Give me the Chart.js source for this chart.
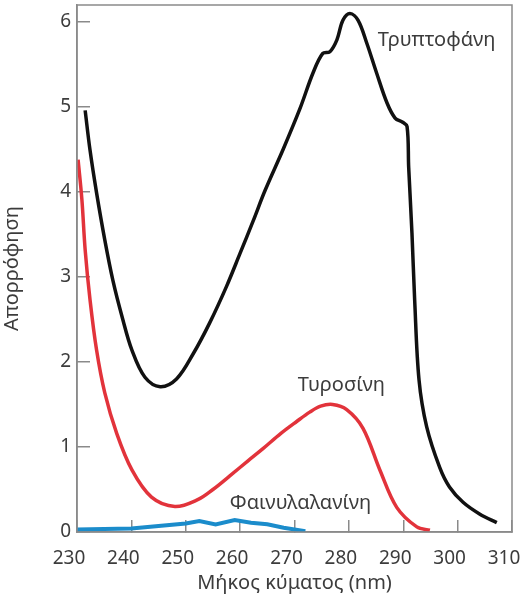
<!DOCTYPE html>
<html>
<head>
<meta charset="utf-8">
<script src="https://cdn.jsdelivr.net/npm/chart.js@4.4.1/dist/chart.umd.min.js"></script>
<style>
  html, body { margin: 0; padding: 0; background: #fff; }
  #wrap { width: 520px; height: 597px; }
</style>
</head>
<body>
<div id="wrap"><canvas id="spectrum"></canvas></div>
<script>
// Τρυπτοφάνη
const trpNm = [231.5, 232.4, 233.6, 235.1, 236.6, 238.3, 240.1, 242.5, 245.3, 248.3, 251.4, 254.4, 257.5, 260, 262.4, 264.6, 267.9, 271, 273.4, 275.2, 276.5, 277.8, 278.9, 280.2, 281.7, 283.3, 285.1, 287, 288.5, 289.9, 290.7, 291, 291.6, 292.1, 292.9, 294.3, 296.7, 298.5, 301, 304.1, 307.2];
const trpAbs = [4.96, 4.49, 3.99, 3.44, 2.96, 2.53, 2.14, 1.82, 1.71, 1.8, 2.1, 2.46, 2.89, 3.28, 3.66, 4.02, 4.5, 4.98, 5.4, 5.63, 5.65, 5.79, 6.02, 6.1, 6.02, 5.75, 5.4, 5.05, 4.87, 4.82, 4.77, 4.29, 3.52, 2.73, 1.79, 1.24, 0.76, 0.53, 0.35, 0.21, 0.11];

// Τυροσίνη
const tyrNm = [230.2, 230.9, 231.5, 232.4, 233.6, 235.1, 237.3, 240.1, 243.7, 248, 252.2, 255, 258.1, 261.5, 264.2, 267.5, 270.4, 272.8, 274.8, 277, 279.6, 282.6, 285.7, 288.8, 292.5, 294.9];
const tyrAbs = [4.38, 3.91, 3.32, 2.73, 2.14, 1.64, 1.16, 0.73, 0.41, 0.3, 0.38, 0.5, 0.66, 0.84, 0.98, 1.16, 1.3, 1.41, 1.48, 1.5, 1.44, 1.22, 0.73, 0.29, 0.06, 0.02];

// Φαινυλαλανίνη
const pheNm = [230, 240, 250, 252.5, 255.5, 259, 262, 265, 268, 272];
const pheAbs = [0.03, 0.04, 0.1, 0.13, 0.09, 0.14, 0.11, 0.09, 0.05, 0.01];

const xTicks = [230, 240, 250, 260, 270, 280, 290, 300, 310];
const yTicks = [0, 1, 2, 3, 4, 5, 6];

const labelTexts = ['Τρυπτοφάνη', 'Τυροσίνη', 'Φαινυλαλανίνη'];
const labelNm = [285.3, 270.6, 258.1];
const labelAbs = [5.79, 1.73, 0.34];

const FONT = "'Noto Sans', sans-serif";
const AXIS_GREY = '#8a8a8a';
const TEXT_GREY = '#3c3c3c';

function toPoints(xs, ys) {
    return xs.map((x, i) => ({ x: x, y: ys[i] }));
}

// fixed axis boxes so the plot area lands where the original has it
function fixBox(size) {
    return (s) => {
        if (s.isHorizontal()) s.height = size; else s.width = size;
        s.paddingTop = 0;
        s.paddingBottom = 0;
        s.paddingLeft = 0;
        s.paddingRight = 0;
    };
}

const framePlugin = {
    id: 'frame',
    afterDatasetsDraw(chart) {
        const { ctx, chartArea: a } = chart;
        ctx.save();
        ctx.strokeStyle = AXIS_GREY;
        ctx.lineWidth = 1.5;
        ctx.strokeRect(a.left, a.top, a.right - a.left, a.bottom - a.top);
        ctx.restore();
    }
};

const curveLabels = {
    id: 'curveLabels',
    afterDatasetsDraw(chart) {
        const { ctx, scales } = chart;
        ctx.save();
        ctx.font = `20px ${FONT}`;
        ctx.fillStyle = TEXT_GREY;
        ctx.textAlign = 'left';
        ctx.textBaseline = 'middle';
        labelTexts.forEach((t, i) => {
            ctx.fillText(t, scales.x.getPixelForValue(labelNm[i]), scales.y.getPixelForValue(labelAbs[i]));
        });
        ctx.restore();
    }
};

new Chart(document.getElementById('spectrum'), {
    type: 'line',
    data: {
        datasets: [
            {
                label: 'Τρυπτοφάνη',
                data: toPoints(trpNm, trpAbs),
                borderColor: '#111111',
                borderWidth: 3.5,
                tension: 0.35,
                pointRadius: 0
            },
            {
                label: 'Τυροσίνη',
                data: toPoints(tyrNm, tyrAbs),
                borderColor: '#e2333b',
                borderWidth: 3.5,
                tension: 0.35,
                pointRadius: 0
            },
            {
                label: 'Φαινυλαλανίνη',
                data: toPoints(pheNm, pheAbs),
                borderColor: '#1b8ccb',
                borderWidth: 4,
                tension: 0,
                pointRadius: 0
            }
        ]
    },
    options: {
        responsive: true,
        maintainAspectRatio: false,
        animation: false,
        layout: { padding: { top: 5, right: 8, left: 0, bottom: 0 } },
        plugins: {
            legend: { display: false },
            tooltip: { enabled: false }
        },
        scales: {
            x: {
                type: 'linear',
                min: 230,
                max: 310,
                afterFit: fixBox(65),
                afterBuildTicks: (s) => { s.ticks = xTicks.map(v => ({ value: v })); },
                grid: { drawOnChartArea: false, tickLength: -12, color: AXIS_GREY, lineWidth: 1.5 },
                border: { color: AXIS_GREY, width: 1.5 },
                ticks: { padding: 27, labelOffset: -8, color: TEXT_GREY, font: { family: FONT, size: 19 } },
                title: {
                    display: true,
                    text: 'Μήκος κύματος (nm)',
                    color: TEXT_GREY,
                    font: { family: FONT, size: 20 },
                    padding: { top: 0, bottom: 2 }
                }
            },
            y: {
                min: 0,
                max: 6.2,
                afterFit: fixBox(77),
                afterBuildTicks: (s) => { s.ticks = yTicks.map(v => ({ value: v })); },
                grid: { drawOnChartArea: false, tickLength: -13, color: AXIS_GREY, lineWidth: 1.5 },
                border: { color: AXIS_GREY, width: 1.5 },
                ticks: { padding: 19, color: TEXT_GREY, font: { family: FONT, size: 19 } },
                title: {
                    display: true,
                    text: 'Απορρόφηση',
                    color: TEXT_GREY,
                    font: { family: FONT, size: 20 },
                    padding: { top: 0, bottom: 0 }
                }
            }
        }
    },
    plugins: [framePlugin, curveLabels]
});
</script>
</body>
</html>
